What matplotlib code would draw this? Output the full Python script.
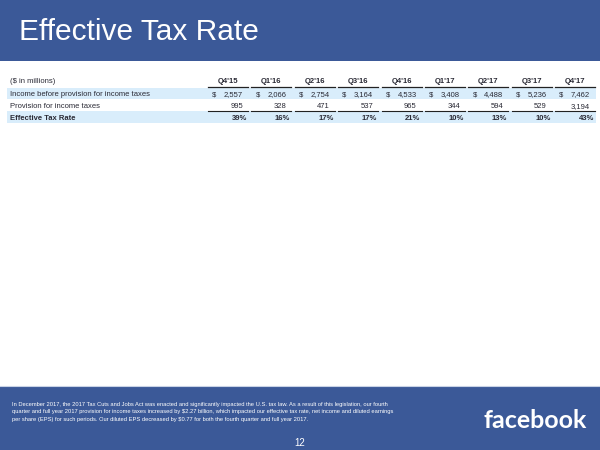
import matplotlib
matplotlib.use('Agg')
import matplotlib.pyplot as plt
from matplotlib.patches import Rectangle

quarters = ["Q4'15", "Q1'16", "Q2'16", "Q3'16", "Q4'16", "Q1'17", "Q2'17", "Q3'17", "Q4'17"]
income = [2557, 2066, 2754, 3164, 4533, 3408, 4488, 5236, 7462]
provision = [995, 328, 471, 537, 965, 344, 594, 529, 3194]
tax_rate = [39, 16, 17, 17, 21, 10, 13, 10, 43]

row_labels = ["($ in millions)", "Income before provision for income taxes",
              "Provision for income taxes", "Effective Tax Rate"]
footnote = ("In December 2017, the 2017 Tax Cuts and Jobs Act was enacted and significantly impacted the U.S. tax law. As a result of this legislation, our fourth\n"
            "quarter and full year 2017 provision for income taxes increased by $2.27 billion, which impacted our effective tax rate, net income and diluted earnings\n"
            "per share (EPS) for such periods. Our diluted EPS decreased by $0.77 for both the fourth quarter and full year 2017.")

blue = '#3b5998'
light = '#d9edfb'
txt = '#2a2a35'
plt.rcParams['font.family'] = ['Liberation Sans', 'DejaVu Sans']

fig = plt.figure(figsize=(6, 4.5), dpi=100)
ax = fig.add_axes([0, 0, 1, 1])
ax.set_xlim(0, 600)
ax.set_ylim(450, 0)
ax.axis('off')

# header and footer bands
ax.add_patch(Rectangle((0, 0), 600, 61, color=blue, lw=0))
ax.add_patch(Rectangle((0, 387), 600, 63, color=blue, lw=0))
ax.plot([0, 600], [386, 386], color='#c9d3e6', lw=0.8)
ax.text(19, 32, "Effective Tax Rate", color='white', fontsize=21.5, va='center', ha='left')

# table row bands
ax.add_patch(Rectangle((7, 88), 589, 11, color=light, lw=0))
ax.add_patch(Rectangle((7, 111), 589, 12, color=light, lw=0))

fs = 5.5
va = 'baseline'
row_y = [82.7, 96.2, 108.2, 120.2]  # baselines
for k, lab in enumerate(row_labels):
    ax.text(10, row_y[k], lab, fontsize=fs, color=txt, va=va, ha='left',
            fontweight='bold' if k == 3 else 'normal')

x0, pitch, half = 228, 43.4, 20
for i, q in enumerate(quarters):
    c = x0 + i * pitch
    ax.text(c, row_y[0], q, fontsize=fs, color=txt, va=va, ha='center', fontweight='bold')
    ax.plot([c - half, c + half], [87, 87], color='#222222', lw=0.9)
    ax.plot([c - half, c + half], [111, 111], color='#222222', lw=0.8)
    ax.text(c - half + 4, row_y[1], "$", fontsize=fs, color=txt, va=va, ha='left')
    ax.text(c + half - 5, row_y[1], f"{income[i]:,}", fontsize=fs, color=txt, va=va, ha='right')
    ax.text(c + half - 5, row_y[2], f"{provision[i]:,}", fontsize=fs, color=txt, va=va, ha='right')
    ax.text(c + half - 1, row_y[3], f"{tax_rate[i]}%", fontsize=fs, color=txt, va=va, ha='right',
            fontweight='bold')

ax.text(12, 412, footnote, fontsize=4.15, color='white', va='center', ha='left', linespacing=1.55)
ax.text(300, 443, "12", fontsize=7, color='white', va='center', ha='center')
ax.text(535.5, 420, "facebook", fontsize=18, color='white', va='center', ha='center',
        fontweight='bold', family='Lato')

fig.savefig('out.png', dpi=100)
